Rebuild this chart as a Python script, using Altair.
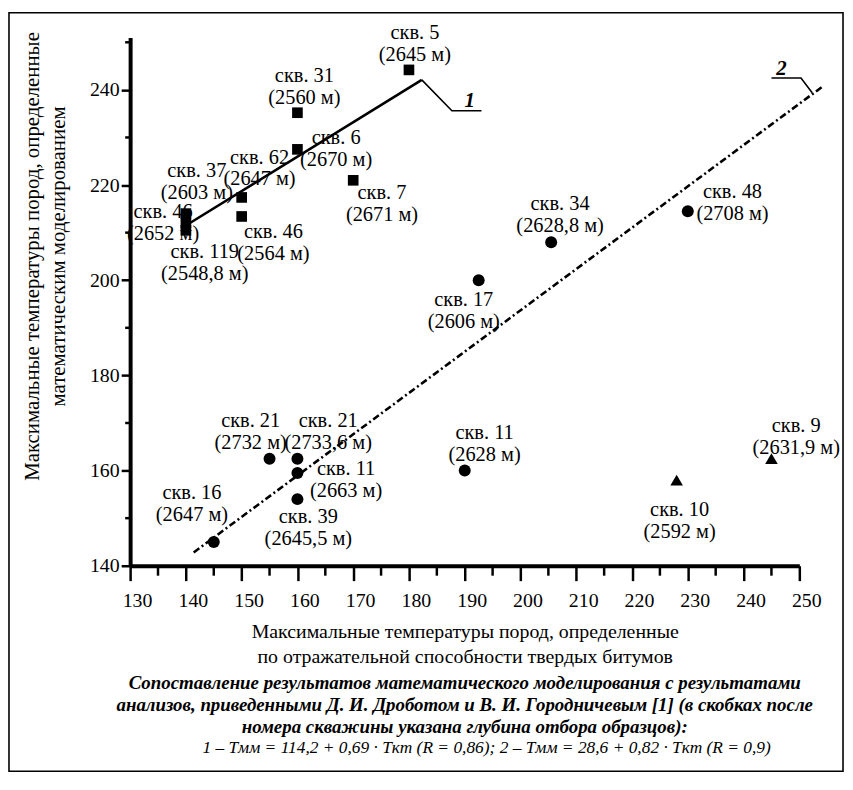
import altair as alt
import pandas as pd

# ---------------- data ----------------
wells = ["скв. 5", "скв. 31", "скв. 6", "скв. 7", "скв. 62", "скв. 37", "скв. 46", "скв. 119", "скв. 46",
         "скв. 34", "скв. 48", "скв. 17", "скв. 21", "скв. 21", "скв. 11", "скв. 39", "скв. 16", "скв. 11",
         "скв. 10", "скв. 9"]
depths = ["(2645 м)", "(2560 м)", "(2670 м)", "(2671 м)", "(2647 м)", "(2603 м)", "(2652 м)", "(2548,8 м)", "(2564 м)",
          "(2628,8 м)", "(2708 м)", "(2606 м)", "(2732 м)", "(2733,6 м)", "(2663 м)", "(2645,5 м)", "(2647 м)", "(2628 м)",
          "(2592 м)", "(2631,9 м)"]
t_bitumen = [180, 160, 160, 170, 150, 140, 140, 140, 150,
             205.5, 230, 192.5, 155, 160, 160, 160, 145, 190,
             228, 245]
t_model = [244.2, 235.2, 227.5, 221, 217.4, 214, 212, 210.5, 213.4,
           208, 214.5, 200, 162.5, 162.5, 159.5, 154, 145, 160,
           158, 162.5]
kinds = ["square"] * 9 + ["circle"] * 9 + ["triangle"] * 2

# label placement offsets (pixels) of the label block centre relative to each marker
label_dx = [6, 7, 39, 29, 18, 11, -23, 19, 32, 9, 45, -15, -19, 31, 49, 11, -22, 20, 3, 25]
label_dy = [-26, -26, 0, 24, -29, -32, 0, 33, 27, -27, -8, 31, -27, -27, 7, 29, -38, -27, 41, -22]

# regression lines (end points)
line1_x = [140, 182.3]
line1_y = [211.5, 242.1]
line2_x = [141.4, 254.4]
line2_y = [142.8, 240.9]
# leaders to the line numbers
leader1_x = [182.3, 187.7, 193.0]
leader1_y = [242.1, 235.6, 235.6]
leader2_x = [252.3, 250.3, 245.0]
leader2_y = [239.4, 242.5, 242.5]
line_names = ["1", "2"]
line_name_x = [190.9, 246.8]
line_name_y = [237.6, 244.4]

x_ticks = list(range(130, 251, 10))
x_minor = list(range(135, 250, 10))
y_ticks = list(range(140, 241, 20))
y_minor = list(range(150, 251, 20))

x_title = ["Максимальные температуры пород, определенные",
           "по отражательной способности твердых битумов"]
y_title = ["Максимальные температуры пород, определенные",
           "математическим моделированием"]
caption = ["Сопоставление результатов математического моделирования с результатами",
           "анализов, приведенными Д. И. Дроботом и В. И. Городничевым [1] (в скобках после",
           "номера скважины указана глубина отбора образцов):"]
formula = "1 – Tмм = 114,2 + 0,69 · Tкт (R = 0,86); 2 – Tмм = 28,6 + 0,82 · Tкт (R = 0,9)"

# ---------------- chart ----------------
W, H = 674, 532
FONT = "Liberation Serif"
LH = 22

df = pd.DataFrame({"x": t_bitumen, "y": t_model, "kind": kinds, "well": wells,
                   "depth": depths, "dx": label_dx, "dy": label_dy})

xs = alt.Scale(domain=[130, 250], nice=False, zero=False)
ys = alt.Scale(domain=[140, 251], nice=False, zero=False)

x_axis = alt.Axis(values=x_ticks, format="d", grid=False, domainColor="black", domainWidth=4,
                  tickColor="black", tickWidth=2.5, tickSize=15, labelFont=FONT, labelFontSize=20,
                  labelColor="black", labelPadding=10, labelOffset=7, labelFlush=False,
                  title=x_title, titleFont=FONT, titleFontSize=20, titleFontWeight="normal",
                  titleColor="black", titleLineHeight=25, titleBaseline="top", titleY=56)
y_axis = alt.Axis(values=y_ticks, format="d", grid=False, domainColor="black", domainWidth=4,
                  tickColor="black", tickWidth=2.5, tickSize=9, labelFont=FONT, labelFontSize=20,
                  labelColor="black", labelPadding=2, labelFlush=False,
                  title=y_title, titleFont=FONT, titleFontSize=21, titleFontWeight="normal",
                  titleColor="black", titleLineHeight=26, titleAngle=-90, titleBaseline="top",
                  titleAlign="center", titleX=-109, titleY=220)


def X(f):
    return alt.X(f, scale=xs, axis=x_axis)


def Y(f):
    return alt.Y(f, scale=ys, axis=y_axis)


base = alt.Chart(df)

squares = base.transform_filter("datum.kind == 'square'").mark_point(
    shape="square", filled=True, size=115, color="black", opacity=1).encode(x=X("x:Q"), y=Y("y:Q"))
circles = base.transform_filter("datum.kind == 'circle'").mark_point(
    shape="circle", filled=True, size=145, color="black", opacity=1).encode(x=X("x:Q"), y=Y("y:Q"))
triangles = base.transform_filter("datum.kind == 'triangle'").mark_point(
    shape="triangle-up", filled=True, size=160, color="black", opacity=1).encode(x=X("x:Q"), y=Y("y:Q"))

labels = base.transform_calculate(
    lx="datum.x + datum.dx * 120 / 674",
    ly="datum.y - (datum.dy - %d) * 111 / 532" % (LH // 2),
    txt='datum.well + "\\n" + datum.depth',
).mark_text(font=FONT, fontSize=20.5, lineBreak="\n", lineHeight=LH, align="center",
            baseline="middle", color="black").encode(x=X("lx:Q"), y=Y("ly:Q"), text="txt:N")

l1 = alt.Chart(pd.DataFrame({"x": line1_x, "y": line1_y})).mark_line(
    color="black", strokeWidth=2.6).encode(x=X("x:Q"), y=Y("y:Q"))
l2 = alt.Chart(pd.DataFrame({"x": line2_x, "y": line2_y})).mark_line(
    color="black", strokeWidth=2.6, strokeDash=[7, 3, 2, 3]).encode(x=X("x:Q"), y=Y("y:Q"))
ld1 = alt.Chart(pd.DataFrame({"x": leader1_x, "y": leader1_y, "o": [0, 1, 2]})).mark_line(
    color="black", strokeWidth=1.6).encode(x=X("x:Q"), y=Y("y:Q"), order="o:Q")
ld2 = alt.Chart(pd.DataFrame({"x": leader2_x, "y": leader2_y, "o": [0, 1, 2]})).mark_line(
    color="black", strokeWidth=1.6).encode(x=X("x:Q"), y=Y("y:Q"), order="o:Q")
names = alt.Chart(pd.DataFrame({"x": line_name_x, "y": line_name_y, "t": line_names})).mark_text(
    font=FONT, fontSize=21, fontStyle="italic", fontWeight="bold", color="black",
    align="center", baseline="middle").encode(x=X("x:Q"), y=Y("y:Q"), text="t:N")

xm = alt.Chart(pd.DataFrame({"x": x_minor})).mark_rule(color="black", strokeWidth=2.5).encode(
    x=X("x:Q"), y=alt.value(H), y2=alt.value(H + 10))
ym = alt.Chart(pd.DataFrame({"y": y_minor})).mark_rule(color="black", strokeWidth=2.5).encode(
    y=Y("y:Q"), x=alt.value(0), x2=alt.value(-5))

one = pd.DataFrame({"a": [0]})
frame = alt.Chart(one).mark_rect(fillOpacity=0, stroke="black", strokeWidth=1.6).encode(
    x=alt.value(-122), x2=alt.value(W + 44), y=alt.value(-25), y2=alt.value(H + 207))
cap = alt.Chart(one).mark_text(font=FONT, fontSize=19, fontStyle="italic", fontWeight="bold",
                               lineBreak="\n", lineHeight=22, align="center", baseline="middle",
                               color="black").encode(
    x=alt.value(W / 2), y=alt.value(H + 118), text=alt.value("\n".join(caption)))
form = alt.Chart(one).mark_text(font=FONT, fontSize=17.5, fontStyle="italic",
                                align="center", baseline="middle", color="black").encode(
    x=alt.value(W / 2 + 22), y=alt.value(H + 184), text=alt.value(formula))

chart = alt.layer(frame, l1, l2, ld1, ld2, squares, circles, triangles, labels, names, xm, ym, cap, form
                  ).properties(
    width=W, height=H,
    autosize=alt.AutoSizeParams(type="none"),
    padding={"left": 123, "top": 27, "right": 46, "bottom": 208},
).configure(background="white").configure_view(strokeWidth=0)

chart.save("out.html", embed_options={"renderer": "svg", "actions": False})
